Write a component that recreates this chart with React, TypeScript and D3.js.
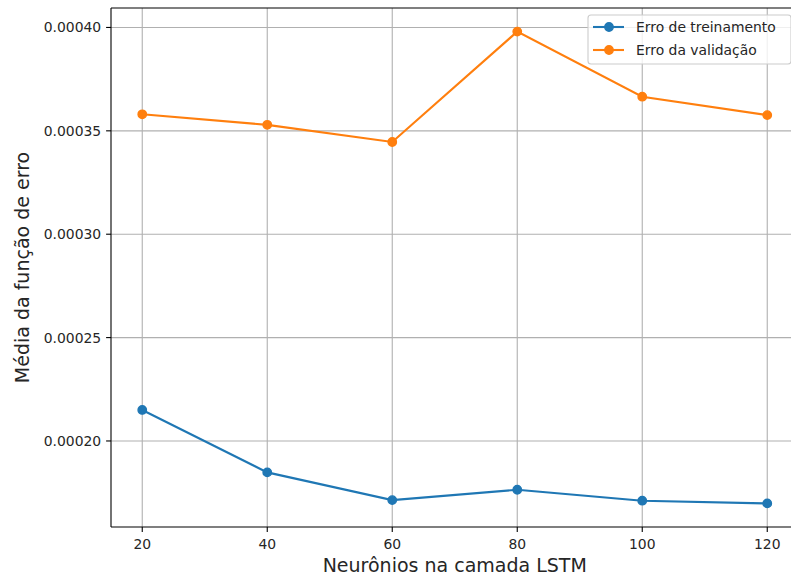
import React from "react";
import * as d3 from "d3";

const neurons = [20, 40, 60, 80, 100, 120];
const trainError = [0.000215, 0.0001848, 0.0001714, 0.0001764, 0.0001711, 0.0001698];
const valError = [0.000358, 0.0003529, 0.0003446, 0.000398, 0.0003665, 0.0003576];
const xTicks = [20, 40, 60, 80, 100, 120];
const yTicks = [0.0002, 0.00025, 0.0003, 0.00035, 0.0004];
const seriesNames = ["Erro de treinamento", "Erro da validação"];
const seriesColors = ["#1f77b4", "#ff7f0e"];

const W = 791;
const H = 579;
const FONT = "DejaVu Sans, sans-serif";

export default function App() {
  const left = 111;
  const right = 798.5;
  const top = 8;
  const bottom = 527;

  const x = d3.scaleLinear().domain([15, 125]).range([left, right]);
  const all = [...trainError, ...valError];
  const [mn, mx] = d3.extent(all) as [number, number];
  const pad = (mx - mn) * 0.05;
  const y = d3.scaleLinear().domain([mn - pad, mx + pad]).range([bottom, top]);

  const line = d3
    .line<number>()
    .x((_, i) => x(neurons[i]))
    .y((d) => y(d));

  const series = [trainError, valError];

  const legLeft = 588;
  const legTop = 15;
  const legW = 203;
  const legH = 49;

  return (
    <svg
      width={W}
      height={H}
      style={{ position: "fixed", left: 0, top: 0, background: "#fff" }}
      fontFamily={FONT}
    >
      <rect x={0} y={0} width={W} height={H} fill="#fff" />
      <defs>
        <clipPath id="plot">
          <rect x={left} y={top} width={right - left} height={bottom - top} />
        </clipPath>
      </defs>
      {/* grid */}
      <g stroke="#b0b0b0" strokeWidth={1.1}>
        {xTicks.map((t) => (
          <line key={"gx" + t} x1={x(t)} x2={x(t)} y1={top} y2={bottom} />
        ))}
        {yTicks.map((t) => (
          <line key={"gy" + t} x1={left} x2={right} y1={y(t)} y2={y(t)} />
        ))}
      </g>
      {/* series */}
      <g clipPath="url(#plot)">
        {series.map((s, si) => (
          <g key={si}>
            <path d={line(s) || ""} fill="none" stroke={seriesColors[si]} strokeWidth={2.1} />
            {s.map((v, i) => (
              <circle
                key={i}
                cx={x(neurons[i])}
                cy={y(v)}
                r={4.2}
                fill={seriesColors[si]}
                stroke={seriesColors[si]}
                strokeWidth={1.4}
              />
            ))}
          </g>
        ))}
      </g>
      {/* spines */}
      <g stroke="#000" strokeWidth={1.1} fill="none">
        <line x1={left} x2={left} y1={top} y2={bottom} />
        <line x1={left} x2={right} y1={bottom} y2={bottom} />
        <line x1={left} x2={right} y1={top} y2={top} />
        <line x1={right} x2={right} y1={top} y2={bottom} />
      </g>
      {/* x ticks */}
      {xTicks.map((t) => (
        <g key={"xt" + t}>
          <line x1={x(t)} x2={x(t)} y1={bottom} y2={bottom + 4.9} stroke="#000" strokeWidth={1.1} />
          <text x={x(t)} y={bottom + 22} textAnchor="middle" fontSize={13.9} fill="#262626">
            {t}
          </text>
        </g>
      ))}
      {/* y ticks */}
      {yTicks.map((t) => (
        <g key={"yt" + t}>
          <line x1={left - 4.9} x2={left} y1={y(t)} y2={y(t)} stroke="#000" strokeWidth={1.1} />
          <text
            x={left - 9.8}
            y={y(t)}
            textAnchor="end"
            dominantBaseline="central"
            fontSize={13.9}
            fill="#262626"
          >
            {d3.format(".5f")(t)}
          </text>
        </g>
      ))}
      {/* axis labels */}
      <text x={(left + right) / 2} y={571.5} textAnchor="middle" fontSize={19} fill="#262626">
        Neurônios na camada LSTM
      </text>
      <text
        transform={`translate(22, ${(top + bottom) / 2}) rotate(-90)`}
        textAnchor="middle"
        dominantBaseline="central"
        fontSize={19}
        fill="#262626"
      >
        Média da função de erro
      </text>
      {/* legend */}
      <g>
        <rect
          x={legLeft}
          y={legTop}
          width={legW}
          height={legH}
          rx={3}
          fill="#fff"
          fillOpacity={0.8}
          stroke="#cccccc"
          strokeWidth={1.1}
        />
        {seriesNames.map((n, i) => {
          const cy = legTop + 12 + i * 23;
          return (
            <g key={n}>
              <line x1={593} x2={624} y1={cy} y2={cy} stroke={seriesColors[i]} strokeWidth={2.1} />
              <circle cx={609} cy={cy} r={4.2} fill={seriesColors[i]} stroke={seriesColors[i]} strokeWidth={1.4} />
              <text x={636} y={cy} dominantBaseline="central" fontSize={13.9} fill="#262626">
                {n}
              </text>
            </g>
          );
        })}
      </g>
    </svg>
  );
}
